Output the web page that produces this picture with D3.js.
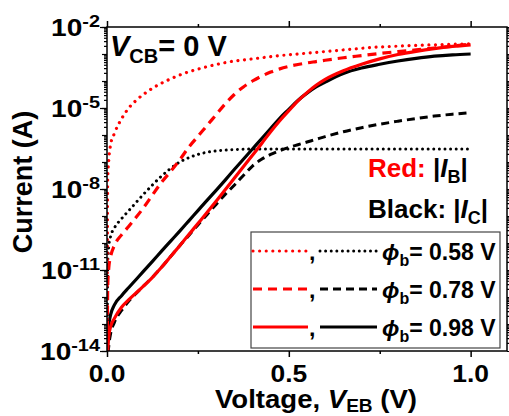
<!DOCTYPE html>
<html>
<head>
<meta charset="utf-8">
<script src="https://cdn.jsdelivr.net/npm/d3@7"></script>
<style>
  body { margin: 0; background: #fff; }
  svg { display: block; }
  text { font-family: "Liberation Sans", Arial, sans-serif; font-weight: bold; fill: #000; }
</style>
</head>
<body>
<svg id="chart" width="509" height="416"></svg>
<script>
// Emitter-base voltage sweep (V)
const voltage = [0, 0.002, 0.005, 0.01, 0.02, 0.04, 0.06, 0.08, 0.1, 0.125, 0.15, 0.175, 0.2, 0.225,
  0.25, 0.275, 0.3, 0.325, 0.35, 0.375, 0.4, 0.425, 0.45, 0.475, 0.5, 0.525, 0.55, 0.575, 0.6,
  0.65, 0.7, 0.75, 0.8, 0.85, 0.9, 0.95, 1.0];

// log10 of |I| in A for each barrier height
const logIB058 = [-16, -7.6, -6.9, -6.35, -5.95, -5.4, -5.0, -4.72, -4.5, -4.27, -4.08, -3.92, -3.78, -3.66,
  -3.56, -3.47, -3.39, -3.32, -3.26, -3.22, -3.18, -3.14, -3.1, -3.06, -3.03, -3.0, -2.97, -2.94, -2.91,
  -2.85, -2.79, -2.74, -2.71, -2.68, -2.66, -2.64, -2.62];
const logIC058 = [-16, -10.8, -10.1, -9.75, -9.45, -9.1, -8.8, -8.5, -8.2, -7.85, -7.52, -7.24, -7.0, -6.84,
  -6.72, -6.64, -6.59, -6.56, -6.54, -6.53, -6.52, -6.52, -6.52, -6.52, -6.52, -6.52, -6.52, -6.52, -6.52,
  -6.52, -6.52, -6.52, -6.52, -6.52, -6.52, -6.52, -6.52];
const logIB078 = [-16, -11.6, -10.9, -10.5, -10.1, -9.7, -9.38, -9.05, -8.7, -8.22, -7.75, -7.35, -6.92, -6.45,
  -6.05, -5.65, -5.25, -4.85, -4.5, -4.22, -4.0, -3.82, -3.67, -3.55, -3.46, -3.39, -3.33, -3.28, -3.23,
  -3.14, -3.06, -2.98, -2.91, -2.85, -2.78, -2.71, -2.63];
const logIC078 = [-16, -14.3, -13.8, -13.35, -12.95, -12.5, -12.15, -11.87, -11.6, -11.27, -10.9, -10.5, -10.1, -9.72,
  -9.33, -8.95, -8.57, -8.2, -7.86, -7.5, -7.15, -6.9, -6.72, -6.58, -6.46, -6.36, -6.26, -6.16, -6.06,
  -5.88, -5.73, -5.6, -5.49, -5.39, -5.3, -5.23, -5.17];
const logIB098 = [-16, -14.0, -13.45, -13.1, -12.8, -12.38, -12.1, -11.85, -11.6, -11.27, -10.9, -10.5, -10.1, -9.69,
  -9.28, -8.87, -8.45, -8.03, -7.6, -7.18, -6.75, -6.32, -5.88, -5.47, -5.1, -4.74, -4.43, -4.16, -3.94,
  -3.62, -3.38, -3.18, -3.02, -2.9, -2.8, -2.72, -2.66];
const logIC098 = [-16, -13.4, -13.0, -12.65, -12.3, -11.95, -11.65, -11.35, -11.05, -10.68, -10.3, -9.93, -9.56, -9.18,
  -8.8, -8.42, -8.05, -7.67, -7.28, -6.9, -6.52, -6.14, -5.76, -5.38, -5.05, -4.72, -4.45, -4.22, -4.04,
  -3.72, -3.52, -3.38, -3.26, -3.16, -3.08, -3.03, -3.0];

const barrierLabels = ["0.58", "0.78", "0.98"];
const xTickValues = [0, 0.25, 0.5, 0.75, 1.0];
const xTickLabels = ["0.0", "", "0.5", "", "1.0"];
const yDecades = d3.range(-14, -1);           // 10^-14 ... 10^-2
const yLabelDecades = [-14, -11, -8, -5, -2];

const RED = "#ff0000", BLACK = "#000000";
const styles = {
  dot:  { red: { w: 3.2, dash: "0.01 6.6" }, black: { w: 3.0, dash: "0.01 5.6" } },
  dash: { red: { w: 3.2, dash: "9 6" },      black: { w: 3.0, dash: "8 5" } },
  solid:{ red: { w: 3.2, dash: null },       black: { w: 3.2, dash: null } }
};

const series = [
  { vals: logIC058, color: BLACK, kind: "dot" },
  { vals: logIC078, color: BLACK, kind: "dash" },
  { vals: logIC098, color: BLACK, kind: "solid" },
  { vals: logIB058, color: RED, kind: "dot" },
  { vals: logIB078, color: RED, kind: "dash" },
  { vals: logIB098, color: RED, kind: "solid" }
];

const svg = d3.select("#chart");
const L = 107, R = 507, T = 27, B = 351;

const x = d3.scaleLinear().domain([0, 1.1]).range([L, R]);
const y = d3.scaleLog().domain([1e-14, 1e-2]).range([B, T]);

svg.append("defs").append("clipPath").attr("id", "plotClip")
  .append("rect").attr("x", L).attr("y", T).attr("width", R - L).attr("height", B - T);

// curves
const line = d3.line()
  .x(d => x(d[0]))
  .y(d => y(Math.pow(10, d[1])))
  .curve(d3.curveMonotoneX);

const curves = svg.append("g").attr("clip-path", "url(#plotClip)");
series.forEach(s => {
  const st = styles[s.kind][s.color === RED ? "red" : "black"];
  curves.append("path")
    .datum(voltage.map((v, i) => [v, s.vals[i]]))
    .attr("d", line)
    .attr("fill", "none")
    .attr("stroke", s.color)
    .attr("stroke-width", st.w)
    .attr("stroke-linecap", s.kind === "dot" ? "round" : "butt")
    .attr("stroke-dasharray", st.dash);
});

// frame
svg.append("rect").attr("x", L).attr("y", T).attr("width", R - L).attr("height", B - T)
  .attr("fill", "none").attr("stroke", "#000").attr("stroke-width", 1.5);

// x axes (bottom and top), ticks outward
const xMinor = xTickValues.filter((d, i) => xTickLabels[i] === "");
const xMajor = xTickValues.filter((d, i) => xTickLabels[i] !== "");
function xAxisTicks(axisGen, pos, vals, size) {
  svg.append("g").attr("transform", `translate(0,${pos})`)
    .call(axisGen(x).tickValues(vals).tickSize(size).tickFormat(""))
    .call(g => g.select(".domain").remove())
    .call(g => g.selectAll("line").attr("stroke-width", 1.5));
}
xAxisTicks(d3.axisBottom, B, xMajor, 6);
xAxisTicks(d3.axisBottom, B, xMinor, 3);
xAxisTicks(d3.axisTop, T, xMajor, 6);
xAxisTicks(d3.axisTop, T, xMinor, 3);

svg.append("g").selectAll("text").data(xMajor)
  .join("text")
  .attr("transform", d => `translate(${x(d)},382) scale(1.1,1)`)
  .attr("text-anchor", "middle")
  .attr("font-size", 24)
  .text(d => xTickLabels[xTickValues.indexOf(d)]);

// y axes (left and right), ticks outward
const yMajorVals = yDecades.map(e => Math.pow(10, e));
const yMinorVals = [];
yDecades.slice(0, -1).forEach(e => d3.range(2, 10).forEach(m => yMinorVals.push(m * Math.pow(10, e))));
function yAxisTicks(axisGen, pos, vals, size) {
  svg.append("g").attr("transform", `translate(${pos},0)`)
    .call(axisGen(y).tickValues(vals).tickSize(size).tickFormat(""))
    .call(g => g.select(".domain").remove())
    .call(g => g.selectAll("line").attr("stroke-width", 1.2));
}
yAxisTicks(d3.axisLeft, L, yLabelDecades.map(e => Math.pow(10, e)), 7);
yAxisTicks(d3.axisLeft, L, yMajorVals, 5);
yAxisTicks(d3.axisLeft, L, yMinorVals, 3);
yAxisTicks(d3.axisRight, R, yMajorVals, 5);
yAxisTicks(d3.axisRight, R, yMinorVals, 3);

const yl = svg.append("g").selectAll("text").data(yLabelDecades).join("text")
  .attr("transform", d => `translate(100,${y(Math.pow(10, d)) + 9}) scale(1.17,1)`)
  .attr("text-anchor", "end")
  .attr("font-size", 24);
yl.append("tspan").text("10");
yl.append("tspan").attr("dy", -9).attr("font-size", 17).text(d => "-" + Math.abs(d));

// axis titles
const xt = svg.append("text").attr("transform", "translate(316,408) scale(1.06,1)")
  .attr("text-anchor", "middle").attr("font-size", 26);
xt.append("tspan").text("Voltage, ");
xt.append("tspan").attr("font-style", "italic").text("V");
xt.append("tspan").attr("font-size", 18).attr("dy", 4).text("EB");
xt.append("tspan").attr("dy", -4).text(" (V)");

svg.append("text")
  .attr("transform", "translate(32,182) rotate(-90)")
  .attr("text-anchor", "middle").attr("font-size", 27)
  .text("Current (A)");

// in-plot annotations
const vcb = svg.append("text").attr("x", 110).attr("y", 56).attr("font-size", 29);
vcb.append("tspan").attr("font-style", "italic").text("V");
vcb.append("tspan").attr("font-size", 20).attr("dy", 7).text("CB");
vcb.append("tspan").attr("dy", -7).text("= 0 V");

const redNote = svg.append("text").attr("x", 368).attr("y", 177).attr("font-size", 26);
redNote.append("tspan").attr("fill", RED).text("Red: ");
redNote.append("tspan").text("|");
redNote.append("tspan").attr("font-style", "italic").text("I");
redNote.append("tspan").attr("font-size", 18).attr("dy", 6).text("B");
redNote.append("tspan").attr("dy", -6).text("|");

const blackNote = svg.append("text").attr("x", 368).attr("y", 218).attr("font-size", 26);
blackNote.append("tspan").text("Black: |");
blackNote.append("tspan").attr("font-style", "italic").text("I");
blackNote.append("tspan").attr("font-size", 18).attr("dy", 6).text("C");
blackNote.append("tspan").attr("dy", -6).text("|");

// legend
const lg = svg.append("g");
lg.append("rect").attr("x", 251).attr("y", 232).attr("width", 249).attr("height", 116)
  .attr("fill", "#fff").attr("stroke", "#444").attr("stroke-width", 1.2);
const kinds = ["dot", "dash", "solid"];
const rowY = [251, 289, 327];
kinds.forEach((k, i) => {
  const yy = rowY[i];
  [[253, 308, RED, "red"], [320, 377, BLACK, "black"]].forEach(([a, b, c, key]) => {
    const st = styles[k][key];
    lg.append("line").attr("x1", a).attr("x2", b).attr("y1", yy).attr("y2", yy)
      .attr("stroke", c).attr("stroke-width", st.w)
      .attr("stroke-linecap", k === "dot" ? "round" : "butt")
      .attr("stroke-dasharray", st.dash);
  });
  lg.append("text").attr("x", 309).attr("y", yy + 9).attr("font-size", 23).text(",");
  const t = lg.append("text").attr("x", 382).attr("y", yy + 9).attr("font-size", 23);
  t.append("tspan").attr("font-style", "italic").text("\u03D5");
  t.append("tspan").attr("font-size", 16).attr("dy", 6).text("b");
  t.append("tspan").attr("dy", -6).text("= " + barrierLabels[i] + " V");
});
</script>
</body>
</html>
